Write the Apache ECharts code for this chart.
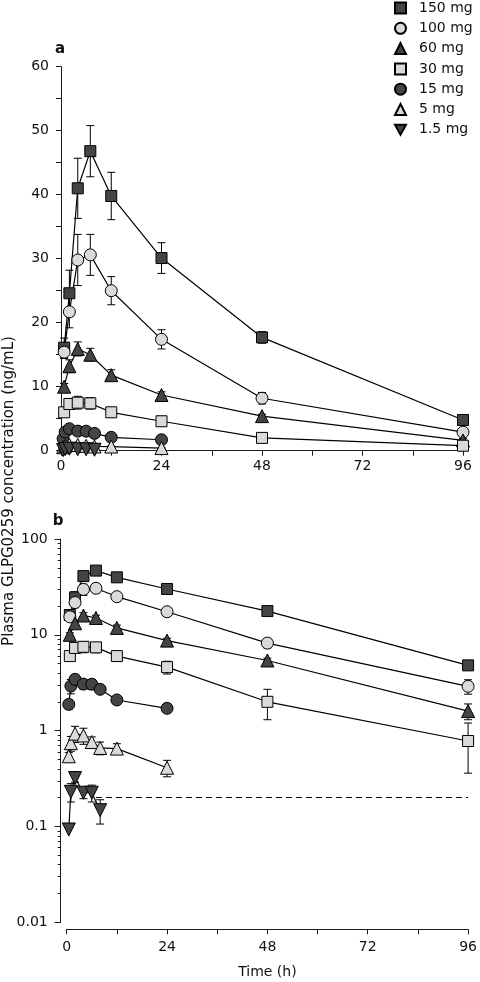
<!DOCTYPE html>
<html><head><meta charset="utf-8">
<script src="https://cdn.jsdelivr.net/npm/echarts@6/dist/echarts.min.js"></script>
<style>html,body{margin:0;padding:0;background:#fff}#c{width:480px;height:982px}</style>
</head><body><div id="c"></div>
<script>
// ---------------- data ----------------
const doseLabels = ['150 mg','100 mg','60 mg','30 mg','15 mg','5 mg','1.5 mg'];

const time150 = [0.75, 2, 4, 7, 12, 24, 48, 96];
const conc150 = [16.1, 24.6, 41.0, 46.8, 39.8, 30.1, 17.7, 4.8];
const sd150   = [1.5, 3.6, 4.7, 4.0, 3.7, 2.4, 0.9, 0.4];

const time100 = [0.75, 2, 4, 7, 12, 24, 48, 96];
const conc100 = [15.4, 21.7, 29.8, 30.6, 25.0, 17.4, 8.2, 2.9];
const sd100   = [1.0, 2.5, 4.0, 3.2, 2.2, 1.5, 0.9, 0.5];

const time60 = [0.75, 2, 4, 7, 12, 24, 48, 96];
const conc60 = [10.0, 13.2, 15.9, 15.0, 11.8, 8.7, 5.4, 1.6];
const sd60   = [0.5, 1.0, 1.1, 1.0, 0.85, 0.5, 0.3, 0.3];

const time30 = [0.75, 2, 4, 7, 12, 24, 48, 96];
const conc30 = [6.0, 7.3, 7.5, 7.4, 6.0, 4.6, 2.0, 0.78];
const sd30   = [0.5, 0.8, 1.0, 0.9, 0.7, 0.7, 0.7, 0.42];

const time15 = [0.5, 1, 2, 4, 6, 8, 12, 24];
const conc15 = [1.88, 2.92, 3.43, 3.06, 3.05, 2.7, 2.09, 1.71];
const sd15   = [0.2, 0.5, 0.3, 0.35, 0.35, 0.2, 0.2, 0.1];

const time5 = [0.5, 1, 2, 4, 6, 8, 12, 24];
const conc5 = [0.54, 0.74, 0.93, 0.89, 0.76, 0.66, 0.65, 0.41];
const sd5   = [0.05, 0.13, 0.18, 0.17, 0.1, 0.1, 0.08, 0.08];

const time1p5 = [0.5, 1, 2, 4, 6, 8];
const conc1p5 = [0.093, 0.23, 0.32, 0.225, 0.225, 0.148];
const sd1p5   = [0, 0.05, 0.03, 0.03, 0.045, 0.042];

const lloq = 0.2;           // dashed reference line (panel b)
const lloqStart = 7;        // h
const lloqEnd = 96;         // h

const xTickLabels = [0, 24, 48, 72, 96];
const yTickLabelsLin = [0, 10, 20, 30, 40, 50, 60];
const yTickLabelsLog = [0.01, 0.1, 1, 10, 100];

// ---------------- styles ----------------
const DARK = '#444444', LIGHT = '#dadada';
const INV_TRI = 'path://M0,0 L10,0 L5,9 Z';
const styles = [
  {symbol: 'rect', color: DARK, size: 11},
  {symbol: 'circle', color: LIGHT, size: 12},
  {symbol: 'triangle', color: DARK, size: 13},
  {symbol: 'rect', color: LIGHT, size: 11},
  {symbol: 'circle', color: DARK, size: 12},
  {symbol: 'triangle', color: LIGHT, size: 13},
  {symbol: INV_TRI, color: DARK, size: 13}
];
const groups = [
  [time150, conc150, sd150], [time100, conc100, sd100], [time60, conc60, sd60],
  [time30, conc30, sd30], [time15, conc15, sd15], [time5, conc5, sd5], [time1p5, conc1p5, sd1p5]
];

const FONT = 'DejaVu Sans';
const AX = '#1a1a1a';

function errRender(params, api) {
  const x = api.value(0), lo = api.value(2), hi = api.value(3);
  if (!(hi > lo)) return null;
  const p1 = api.coord([x, hi]), p2 = api.coord([x, lo]);
  const w = 4, st = {stroke: '#000', lineWidth: 1};
  return {type: 'group', children: [
    {type: 'line', shape: {x1: p1[0], y1: p1[1], x2: p2[0], y2: p2[1]}, style: st},
    {type: 'line', shape: {x1: p1[0] - w, y1: p1[1], x2: p1[0] + w, y2: p1[1]}, style: st},
    {type: 'line', shape: {x1: p2[0] - w, y1: p2[1], x2: p2[0] + w, y2: p2[1]}, style: st}
  ]};
}

const series = [];
[0, 1].forEach(function (panel) {
  const errData = [];
  groups.forEach(function (g, i) {
    g[0].forEach(function (t, k) {
      let lo = g[1][k] - g[2][k];
      if (panel === 1 && lo <= 0) lo = 0.011;
      if (panel === 0 && lo < 0) lo = 0;
      errData.push([t, g[1][k], lo, g[1][k] + g[2][k]]);
    });
  });
  series.push({
    type: 'custom', xAxisIndex: panel, yAxisIndex: panel, renderItem: errRender,
    data: errData, encode: {x: 0, y: [1, 2, 3]}, z: 1, silent: true, clip: false
  });
  groups.forEach(function (g, i) {
    const s = styles[i];
    const ser = {
      name: doseLabels[i], type: 'line', xAxisIndex: panel, yAxisIndex: panel,
      data: g[0].map(function (t, k) { return [t, g[1][k]]; }),
      symbol: s.symbol, symbolSize: s.size, showAllSymbol: true, z: 3,
      lineStyle: {color: '#000', width: 1.2},
      itemStyle: {color: s.color, borderColor: '#000', borderWidth: 1},
      emphasis: {disabled: true}, animation: false
    };
    if (panel === 1 && i === 6) {
      ser.markLine = {
        silent: true, symbol: ['none', 'none'], label: {show: false},
        lineStyle: {color: '#000', type: [6, 4], width: 1},
        data: [[{coord: [lloqStart, lloq]}, {coord: [lloqEnd, lloq]}]],
        z: 0
      };
    }
    series.push(ser);
  });
});

const chart = echarts.init(document.getElementById('c'), null, {renderer: 'canvas'});
chart.setOption({
  animation: false,
  backgroundColor: '#fff',
  textStyle: {fontFamily: FONT, fontSize: 14, color: '#111'},
  grid: [
    {left: 61, top: 66.7, width: 402, height: 384},
    {left: 66.7, top: 539, width: 404.3, height: 383.3}
  ],
  legend: {
    orient: 'vertical', left: 394, top: 0, itemWidth: 11, itemHeight: 11, itemGap: 4.3,
    padding: 0,
    textStyle: {fontFamily: FONT, fontSize: 14, color: '#111', padding: [0, 0, 0, 8], lineHeight: 16},
    selectedMode: false,
    data: doseLabels.map(function (n, i) {
      return {name: n, icon: styles[i].symbol};
    })
  },
  xAxis: [0, 1].map(function (p) {
    return {
      type: 'value', gridIndex: p, min: 0, max: 96, interval: 12,
      offset: p === 1 ? 7 : 0,
      axisLine: {show: true, onZero: false, lineStyle: {color: AX, width: 1}},
      axisTick: {show: true, length: 5, lineStyle: {color: AX}},
      axisLabel: {margin: p === 1 ? 11 : 9, fontFamily: FONT, fontSize: 14, color: '#111',
        formatter: function (v) { return xTickLabels.indexOf(v) >= 0 ? String(v) : ''; }},
      splitLine: {show: false},
      name: p === 1 ? 'Time (h)' : '', nameLocation: 'middle', nameGap: 36,
      nameTextStyle: {fontFamily: FONT, fontSize: 14, color: '#111'}
    };
  }),
  yAxis: [
    {
      type: 'value', gridIndex: 0, min: 0, max: 60, interval: 5,
      axisLine: {show: true, onZero: false, lineStyle: {color: AX, width: 1}},
      axisTick: {show: true, length: 5, lineStyle: {color: AX}},
      axisLabel: {margin: 12, fontFamily: FONT, fontSize: 14, color: '#111',
        formatter: function (v) { return yTickLabelsLin.indexOf(v) >= 0 ? String(v) : ''; }},
      splitLine: {show: false}
    },
    {
      type: 'log', logBase: 10, gridIndex: 1, min: 0.01, max: 100, offset: 6,
      axisLine: {show: true, onZero: false, lineStyle: {color: AX, width: 1}},
      axisTick: {show: true, length: 6, lineStyle: {color: AX}},
      minorTick: {show: true, splitNumber: 9, length: 3, lineStyle: {color: AX}},
      axisLabel: {margin: 13, fontFamily: FONT, fontSize: 14, color: '#111',
        formatter: function (v) {
          for (const t of yTickLabelsLog) { if (Math.abs(v - t) / t < 1e-6) return String(t); }
          return '';
        }},
      splitLine: {show: false}, minorSplitLine: {show: false}
    }
  ],
  graphic: [
    {type: 'text', x: 60, y: 49, style: {text: 'a', font: 'bold 15px ' + FONT, fill: '#111', textAlign: 'center', textVerticalAlign: 'middle'}},
    {type: 'text', x: 58, y: 521, style: {text: 'b', font: 'bold 15px ' + FONT, fill: '#111', textAlign: 'center', textVerticalAlign: 'middle'}},
    {type: 'text', x: 9, y: 491, rotation: Math.PI / 2,
      style: {text: 'Plasma GLPG0259 concentration (ng/mL)', font: '15px ' + FONT, fill: '#111', textAlign: 'center', textVerticalAlign: 'middle'}}
  ],
  series: series
});
</script>
</body></html>
